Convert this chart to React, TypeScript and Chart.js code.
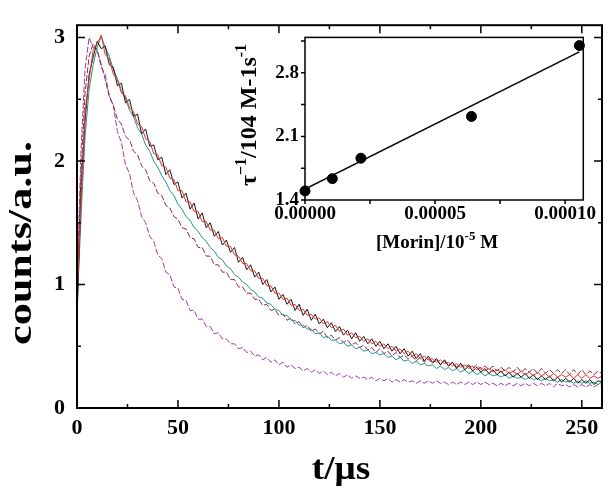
import React, { useEffect, useRef } from "react";
import { Chart, registerables } from "chart.js";
Chart.register(...registerables);

// ---------- main chart data (t in µs, counts in a.u.) ----------
const TIMES = [
  0, 2, 4, 6, 8, 10, 12, 14, 16, 18,
  20, 22, 24, 26, 28, 30, 32, 34, 36, 38,
  40, 42, 44, 46, 48, 50, 52, 54, 56, 58,
  60, 62, 64, 66, 68, 70, 72, 74, 76, 78,
  80, 82, 84, 86, 88, 90, 92, 94, 96, 98,
  100, 102, 104, 106, 108, 110, 112, 114, 116, 118,
  120, 122, 124, 126, 128, 130, 132, 134, 136, 138,
  140, 142, 144, 146, 148, 150, 152, 154, 156, 158,
  160, 162, 164, 166, 168, 170, 172, 174, 176, 178,
  180, 182, 184, 186, 188, 190, 192, 194, 196, 198,
  200, 202, 204, 206, 208, 210, 212, 214, 216, 218,
  220, 222, 224, 226, 228, 230, 232, 234, 236, 238,
  240, 242, 244, 246, 248, 250, 252, 254, 256, 258,
  260,
];

const BLACK = [
  0.72, 1.78, 2.33, 2.70, 2.84, 2.97, 2.91, 2.93, 2.78, 2.76,
  2.61, 2.63, 2.47, 2.50, 2.36, 2.38, 2.22, 2.26, 2.12, 2.13,
  2.01, 2.03, 1.89, 1.93, 1.81, 1.83, 1.70, 1.74, 1.61, 1.66,
  1.53, 1.58, 1.46, 1.50, 1.39, 1.43, 1.32, 1.36, 1.26, 1.30,
  1.18, 1.22, 1.12, 1.16, 1.06, 1.10, 1.00, 1.04, 0.94, 0.98,
  0.88, 0.92, 0.84, 0.88, 0.79, 0.84, 0.75, 0.80, 0.71, 0.76,
  0.68, 0.72, 0.65, 0.69, 0.62, 0.66, 0.59, 0.63, 0.56, 0.61,
  0.54, 0.58, 0.52, 0.56, 0.50, 0.54, 0.48, 0.52, 0.46, 0.50,
  0.44, 0.48, 0.42, 0.46, 0.40, 0.44, 0.38, 0.42, 0.37, 0.40,
  0.35, 0.39, 0.34, 0.37, 0.32, 0.36, 0.31, 0.34, 0.30, 0.33,
  0.29, 0.32, 0.28, 0.31, 0.27, 0.30, 0.26, 0.29, 0.25, 0.28,
  0.25, 0.28, 0.24, 0.27, 0.23, 0.26, 0.23, 0.26, 0.22, 0.25,
  0.21, 0.24, 0.21, 0.24, 0.20, 0.23, 0.20, 0.23, 0.19, 0.22,
  0.21,
];

const RED = [
  0.85, 1.70, 2.40, 2.66, 2.90, 2.95, 3.02, 2.86, 2.83, 2.70,
  2.66, 2.55, 2.53, 2.43, 2.40, 2.30, 2.28, 2.18, 2.16, 2.06,
  2.05, 1.96, 1.95, 1.86, 1.85, 1.76, 1.76, 1.67, 1.67, 1.59,
  1.59, 1.51, 1.51, 1.44, 1.44, 1.37, 1.38, 1.31, 1.31, 1.24,
  1.23, 1.17, 1.17, 1.11, 1.11, 1.05, 1.05, 0.99, 0.99, 0.93,
  0.93, 0.88, 0.89, 0.83, 0.84, 0.79, 0.80, 0.75, 0.76, 0.72,
  0.73, 0.68, 0.70, 0.65, 0.67, 0.62, 0.64, 0.59, 0.61, 0.57,
  0.58, 0.54, 0.56, 0.52, 0.54, 0.50, 0.52, 0.48, 0.50, 0.46,
  0.48, 0.44, 0.46, 0.42, 0.44, 0.40, 0.42, 0.39, 0.40, 0.37,
  0.39, 0.36, 0.37, 0.34, 0.36, 0.33, 0.35, 0.32, 0.34, 0.31,
  0.33, 0.30, 0.32, 0.29, 0.31, 0.29, 0.31, 0.28, 0.30, 0.27,
  0.30, 0.27, 0.29, 0.26, 0.29, 0.26, 0.28, 0.25, 0.28, 0.25,
  0.27, 0.25, 0.27, 0.24, 0.27, 0.24, 0.27, 0.24, 0.26, 0.24,
  0.26,
];

const TEAL = [
  0.80, 1.55, 2.20, 2.58, 2.78, 2.92, 3.01, 2.92, 2.85, 2.74,
  2.67, 2.57, 2.51, 2.41, 2.36, 2.27, 2.22, 2.13, 2.08, 2.00,
  1.95, 1.88, 1.83, 1.76, 1.72, 1.65, 1.61, 1.55, 1.52, 1.46,
  1.43, 1.38, 1.35, 1.30, 1.27, 1.22, 1.20, 1.15, 1.13, 1.08,
  1.06, 1.02, 1.00, 0.96, 0.94, 0.90, 0.89, 0.85, 0.84, 0.80,
  0.79, 0.75, 0.75, 0.71, 0.71, 0.67, 0.67, 0.64, 0.64, 0.60,
  0.61, 0.57, 0.58, 0.55, 0.55, 0.52, 0.53, 0.50, 0.51, 0.48,
  0.49, 0.46, 0.47, 0.44, 0.45, 0.43, 0.44, 0.41, 0.42, 0.39,
  0.41, 0.38, 0.39, 0.36, 0.38, 0.35, 0.36, 0.34, 0.35, 0.32,
  0.34, 0.31, 0.33, 0.30, 0.32, 0.29, 0.31, 0.28, 0.30, 0.27,
  0.29, 0.26, 0.28, 0.26, 0.27, 0.25, 0.27, 0.24, 0.26, 0.24,
  0.25, 0.23, 0.25, 0.23, 0.24, 0.22, 0.24, 0.22, 0.23, 0.21,
  0.23, 0.21, 0.22, 0.20, 0.22, 0.20, 0.22, 0.20, 0.21, 0.19,
  0.21,
];

const BROWN = [
  0.90, 1.90, 2.55, 2.85, 2.95, 2.90, 2.78, 2.66, 2.52, 2.45,
  2.34, 2.30, 2.20, 2.17, 2.08, 2.05, 1.96, 1.93, 1.84, 1.82,
  1.74, 1.72, 1.64, 1.62, 1.55, 1.53, 1.46, 1.45, 1.38, 1.37,
  1.30, 1.30, 1.23, 1.23, 1.16, 1.16, 1.10, 1.10, 1.04, 1.04,
  0.98, 0.98, 0.93, 0.93, 0.88, 0.88, 0.83, 0.84, 0.79, 0.80,
  0.75, 0.76, 0.71, 0.73, 0.68, 0.70, 0.65, 0.67, 0.62, 0.64,
  0.60, 0.62, 0.57, 0.59, 0.55, 0.57, 0.53, 0.55, 0.51, 0.53,
  0.49, 0.51, 0.47, 0.49, 0.45, 0.48, 0.44, 0.46, 0.42, 0.45,
  0.41, 0.43, 0.40, 0.42, 0.38, 0.41, 0.37, 0.40, 0.36, 0.39,
  0.35, 0.38, 0.34, 0.37, 0.33, 0.36, 0.33, 0.35, 0.32, 0.35,
  0.31, 0.34, 0.31, 0.34, 0.30, 0.33, 0.30, 0.33, 0.29, 0.33,
  0.29, 0.32, 0.29, 0.32, 0.28, 0.32, 0.28, 0.31, 0.28, 0.31,
  0.28, 0.31, 0.27, 0.31, 0.27, 0.31, 0.27, 0.30, 0.27, 0.30,
  0.28,
];

const PURPLE = [
  1.00, 2.10, 2.75, 3.00, 2.92, 2.90, 2.76, 2.70, 2.53, 2.45,
  2.24, 2.15, 1.97, 1.90, 1.74, 1.68, 1.55, 1.50, 1.39, 1.35,
  1.24, 1.21, 1.10, 1.08, 0.98, 0.97, 0.88, 0.87, 0.79, 0.79,
  0.72, 0.72, 0.66, 0.66, 0.60, 0.61, 0.56, 0.56, 0.52, 0.52,
  0.48, 0.49, 0.45, 0.46, 0.42, 0.43, 0.39, 0.41, 0.37, 0.39,
  0.35, 0.37, 0.33, 0.35, 0.32, 0.33, 0.30, 0.32, 0.29, 0.31,
  0.28, 0.30, 0.27, 0.29, 0.26, 0.28, 0.25, 0.27, 0.24, 0.26,
  0.24, 0.25, 0.23, 0.25, 0.22, 0.24, 0.22, 0.24, 0.21, 0.23,
  0.21, 0.23, 0.21, 0.22, 0.20, 0.22, 0.20, 0.22, 0.20, 0.22,
  0.20, 0.21, 0.19, 0.21, 0.19, 0.21, 0.19, 0.21, 0.19, 0.21,
  0.19, 0.21, 0.19, 0.20, 0.18, 0.20, 0.18, 0.20, 0.18, 0.20,
  0.18, 0.20, 0.18, 0.20, 0.18, 0.20, 0.18, 0.20, 0.17, 0.20,
  0.18, 0.19, 0.17, 0.19, 0.17, 0.19, 0.17, 0.19, 0.17, 0.19,
  0.18,
];

const MAIN_X_TICKS = [0, 50, 100, 150, 200, 250];
const MAIN_X_MINOR = [25, 75, 125, 175, 225];
const MAIN_Y_TICKS = [0, 1, 2, 3];
const MAIN_Y_MINOR = [0.5, 1.5, 2.5];

// ---------- inset data ----------
const MORIN = [0, 1.05e-5, 2.15e-5, 6.4e-5, 10.55e-5];
const INV_TAU = [1.5, 1.635, 1.86, 2.32, 3.1];
const FIT_X = [0, 10.55e-5];
const FIT_Y = [1.52, 3.03];
const INSET_X_TICKS = [0, 0.00005, 0.0001];
const INSET_X_MINOR = [0.000025, 0.000075];
const INSET_Y_TICKS = [1.4, 2.1, 2.8];
const INSET_Y_MINOR = [1.75, 2.45, 3.15];

const SERIF = '"Liberation Serif", "Times New Roman", serif';

type Seg = { t: string; sup?: boolean };
function drawRich(ctx: CanvasRenderingContext2D, segs: Seg[], size: number) {
  const big = `bold ${size}px ${SERIF}`;
  const small = `bold ${Math.round(size * 0.68)}px ${SERIF}`;
  let total = 0;
  const widths = segs.map((s) => {
    ctx.font = s.sup ? small : big;
    const w = ctx.measureText(s.t).width;
    total += w;
    return w;
  });
  let x = -total / 2;
  ctx.textAlign = "left";
  ctx.textBaseline = "alphabetic";
  segs.forEach((s, i) => {
    ctx.font = s.sup ? small : big;
    ctx.fillText(s.t, x, s.sup ? -size * 0.4 : 0);
    x += widths[i];
  });
}

const mainFrame = {
  id: "mainFrame",
  afterDatasetsDraw(chart: any) {
    const { ctx, chartArea: a, scales } = chart;
    const x = scales.x;
    const y = scales.y;
    ctx.save();
    ctx.strokeStyle = "#000";
    ctx.lineWidth = 2;
    ctx.strokeRect(a.left, a.top, a.right - a.left, a.bottom - a.top);
    ctx.lineWidth = 1.5;
    ctx.beginPath();
    const xt = (v: number, len: number) => {
      const p = x.getPixelForValue(v);
      ctx.moveTo(p, a.bottom);
      ctx.lineTo(p, a.bottom - len);
      ctx.moveTo(p, a.top);
      ctx.lineTo(p, a.top + len);
    };
    const yt = (v: number, len: number) => {
      const p = y.getPixelForValue(v);
      ctx.moveTo(a.left, p);
      ctx.lineTo(a.left + len, p);
      ctx.moveTo(a.right, p);
      ctx.lineTo(a.right - len, p);
    };
    MAIN_X_TICKS.forEach((v) => xt(v, 8));
    MAIN_X_MINOR.forEach((v) => xt(v, 4));
    MAIN_Y_TICKS.forEach((v) => yt(v, 8));
    MAIN_Y_MINOR.forEach((v) => yt(v, 4));
    ctx.stroke();

    ctx.fillStyle = "#000";
    ctx.font = `bold 34px ${SERIF}`;
    ctx.textAlign = "center";
    ctx.textBaseline = "middle";
    ctx.save();
    ctx.translate(22, 243);
    ctx.rotate(-Math.PI / 2);
    ctx.scale(1.3, 1);
    ctx.fillText("counts/a.u.", 0, 0);
    ctx.restore();
    ctx.save();
    ctx.translate(341, 470);
    ctx.scale(1.1, 1);
    ctx.fillText("t/μs", 0, 0);
    ctx.restore();
    ctx.restore();
  },
};

const insetFrame = {
  id: "insetFrame",
  afterDatasetsDraw(chart: any) {
    const { ctx, chartArea: a, scales } = chart;
    const x = scales.x;
    const y = scales.y;
    ctx.save();
    ctx.strokeStyle = "#000";
    ctx.lineWidth = 1.5;
    ctx.strokeRect(a.left, a.top, a.right - a.left, a.bottom - a.top);
    ctx.beginPath();
    [...INSET_X_TICKS, ...INSET_X_MINOR].forEach((v) => {
      const p = x.getPixelForValue(v);
      ctx.moveTo(p, a.bottom);
      ctx.lineTo(p, a.bottom + 4);
    });
    [...INSET_Y_TICKS, ...INSET_Y_MINOR].forEach((v) => {
      const p = y.getPixelForValue(v);
      ctx.moveTo(a.left, p);
      ctx.lineTo(a.left - 4, p);
    });
    ctx.stroke();

    ctx.fillStyle = "#000";
    ctx.save();
    ctx.translate(207, 228);
    drawRich(ctx, [{ t: "[Morin]/10" }, { t: "-5", sup: true }, { t: " M" }], 19);
    ctx.restore();
    ctx.save();
    ctx.translate(26, 95);
    ctx.rotate(-Math.PI / 2);
    drawRich(
      ctx,
      [
        { t: "τ" },
        { t: "−1", sup: true },
        { t: "/104 M-1" },
        { t: "s" },
        { t: "-1", sup: true },
      ],
      24
    );
    ctx.restore();
    ctx.restore();
  },
};

const tickFont = (size: number) => ({ family: SERIF, size, weight: "bold" as const });

export default function App() {
  const mainRef = useRef<HTMLCanvasElement | null>(null);
  const insetRef = useRef<HTMLCanvasElement | null>(null);

  useEffect(() => {
    const pts = (arr: number[]) => TIMES.map((t, i) => ({ x: t, y: arr[i] }));
    const series = [
      { label: "red", data: RED, color: "#e5322c", dash: [] as number[] },
      { label: "black", data: BLACK, color: "#141414", dash: [] as number[] },
      { label: "teal", data: TEAL, color: "#23958a", dash: [] as number[] },
      { label: "brown", data: BROWN, color: "#8c2d48", dash: [6, 2] },
      { label: "purple", data: PURPLE, color: "#9b3ca8", dash: [6, 2] },
    ];
    const main = new Chart(mainRef.current!, {
      type: "line",
      data: {
        datasets: series.map((s) => ({
          label: s.label,
          data: pts(s.data),
          borderColor: s.color,
          borderWidth: 1,
          borderDash: s.dash,
          pointRadius: 0,
          tension: 0,
          fill: false,
        })),
      },
      options: {
        responsive: false,
        animation: false,
        devicePixelRatio: 1,
        layout: { padding: { left: 0, right: 7, top: 4, bottom: 0 } },
        plugins: { legend: { display: false }, tooltip: { enabled: false } },
        scales: {
          x: {
            type: "linear",
            min: 0,
            max: 260,
            grid: { display: false, drawTicks: false },
            border: { display: false },
            afterBuildTicks: (s: any) => {
              s.ticks = MAIN_X_TICKS.map((v) => ({ value: v }));
            },
            afterFit: (s: any) => {
              s.height = 84;
            },
            ticks: { color: "#000", font: tickFont(22), padding: 7, maxRotation: 0, autoSkip: false },
          },
          y: {
            type: "linear",
            min: 0,
            max: 3.1,
            grid: { display: false, drawTicks: false },
            border: { display: false },
            afterBuildTicks: (s: any) => {
              s.ticks = MAIN_Y_TICKS.map((v) => ({ value: v }));
            },
            afterFit: (s: any) => {
              s.width = 77;
            },
            ticks: { color: "#000", font: tickFont(22), padding: 12, autoSkip: false },
          },
        },
      },
      plugins: [mainFrame],
    } as any);

    const inset = new Chart(insetRef.current!, {
      type: "scatter",
      data: {
        datasets: [
          {
            label: "points",
            data: MORIN.map((m, i) => ({ x: m, y: INV_TAU[i] })),
            backgroundColor: "#000",
            borderColor: "#000",
            pointRadius: 5,
            showLine: false,
            clip: false,
          },
          {
            type: "line",
            label: "fit",
            data: FIT_X.map((m, i) => ({ x: m, y: FIT_Y[i] })),
            borderColor: "#000",
            borderWidth: 1.5,
            pointRadius: 0,
            showLine: true,
            fill: false,
          },
        ],
      },
      options: {
        responsive: false,
        animation: false,
        devicePixelRatio: 1,
        layout: { padding: { left: 0, right: 16, top: 7, bottom: 0 } },
        plugins: { legend: { display: false }, tooltip: { enabled: false } },
        scales: {
          x: {
            type: "linear",
            min: 0,
            max: 0.000107,
            grid: { display: false, drawTicks: false },
            border: { display: false },
            afterBuildTicks: (s: any) => {
              s.ticks = INSET_X_TICKS.map((v) => ({ value: v }));
            },
            afterFit: (s: any) => {
              s.height = 60;
            },
            ticks: {
              color: "#000",
              font: tickFont(19),
              padding: 3,
              maxRotation: 0,
              autoSkip: false,
              callback: (v: any) => Number(v).toFixed(5),
            },
          },
          y: {
            type: "linear",
            min: 1.4,
            max: 3.19,
            grid: { display: false, drawTicks: false },
            border: { display: false },
            afterBuildTicks: (s: any) => {
              s.ticks = INSET_Y_TICKS.map((v) => ({ value: v }));
            },
            afterFit: (s: any) => {
              s.width = 75;
            },
            ticks: {
              color: "#000",
              font: tickFont(19),
              padding: 6,
              autoSkip: false,
              callback: (v: any) => Number(v).toFixed(1),
            },
          },
        },
      },
      plugins: [insetFrame],
    } as any);

    return () => {
      main.destroy();
      inset.destroy();
    };
  }, []);

  return (
    <div style={{ position: "fixed", left: 0, top: 0, width: 609, height: 492, background: "#fff" }}>
      <canvas
        ref={mainRef}
        width={609}
        height={492}
        style={{ position: "absolute", left: 0, top: 0, width: 609, height: 492 }}
      />
      <canvas
        ref={insetRef}
        width={370}
        height={240}
        style={{ position: "absolute", left: 230, top: 20, width: 370, height: 240 }}
      />
    </div>
  );
}
